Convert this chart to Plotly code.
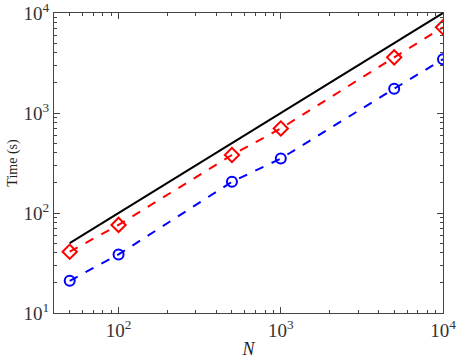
import numpy as np
import plotly.graph_objects as go

# data
N = [50, 100, 500, 1000, 5000, 10000]
t_red = [41, 76, 380, 700, 3600, 7200]
t_blue = [21, 38.5, 205, 350, 1750, 3450]
ref_N = [50, 10000]
ref_t = [50, 10000]

x_ticks = [100, 1000, 10000]
x_labels = ["10<sup>2</sup>", "10<sup>3</sup>", "10<sup>4</sup>"]
y_ticks = [10, 100, 1000, 10000]
y_labels = ["10<sup>1</sup>", "10<sup>2</sup>", "10<sup>3</sup>", "10<sup>4</sup>"]

x_range = [np.log10(40), 4]
y_range = [1, 4]
x_minor = [m * 10 ** k for k in range(1, 4) for m in range(2, 10) if 40 <= m * 10 ** k <= 10000]
y_minor = [m * 10 ** k for k in range(1, 4) for m in range(2, 10)]

fig = go.Figure()
fig.add_trace(go.Scatter(x=ref_N, y=ref_t, mode="lines",
                         line=dict(color="black", width=2)))
fig.add_trace(go.Scatter(x=N, y=t_red, mode="lines+markers",
                         line=dict(color="red", width=2, dash="dash"),
                         marker=dict(symbol="diamond-open", size=11, color="red",
                                     line=dict(width=2))))
fig.add_trace(go.Scatter(x=N, y=t_blue, mode="lines+markers",
                         line=dict(color="blue", width=2, dash="dash"),
                         marker=dict(symbol="circle-open", size=10, color="blue",
                                     line=dict(width=2))))

tick_font = dict(family="Liberation Serif", size=19, color="#333")
axis_style = dict(type="log", showline=True, linecolor="#444", linewidth=1, mirror="ticks",
                  ticks="inside", tickcolor="#444", showgrid=False, zeroline=False,
                  automargin=False, ticklabeloverflow="allow")

fig.update_layout(
    xaxis=dict(range=x_range, tickvals=x_ticks, ticktext=x_labels, ticklen=6,
               tickfont=tick_font,
               title=dict(text="<i>N</i>", font=dict(family="Liberation Serif", size=18, color="#222"),
                          standoff=2),
               **axis_style),
    yaxis=dict(range=y_range, tickvals=y_ticks, ticktext=y_labels, ticklen=6,
               tickfont=tick_font,
               title=dict(text="Time (s)", font=dict(family="Liberation Serif", size=14, color="#222"),
                          standoff=2),
               **axis_style),
    # extra axes only for the short minor ticks
    xaxis2=dict(overlaying="x", side="bottom", range=x_range, tickvals=x_minor,
                showticklabels=False, ticklen=3, **axis_style),
    yaxis2=dict(overlaying="y", side="left", range=y_range, tickvals=y_minor,
                showticklabels=False, ticklen=3, **axis_style),
)
fig.add_trace(go.Scatter(x=[None], y=[None], xaxis="x2", yaxis="y2", showlegend=False))

fig.update_layout(width=457, height=360, showlegend=False,
                  plot_bgcolor="white", paper_bgcolor="white",
                  margin=dict(l=54, r=14, t=13, b=47))

fig.write_html("out.html", config={"displayModeBar": False},
               post_script="document.body.style.margin='0';")
